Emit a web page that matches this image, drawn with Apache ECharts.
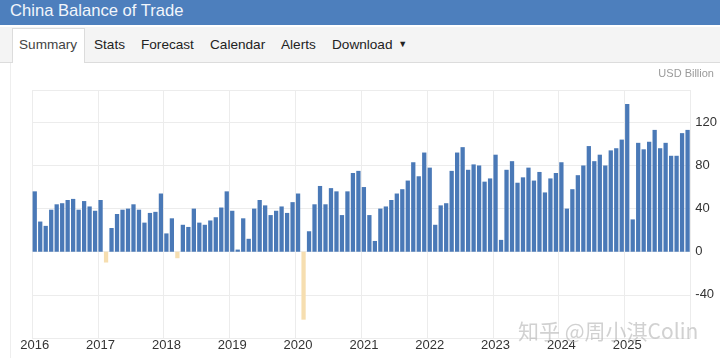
<!DOCTYPE html>
<html>
<head>
<meta charset="utf-8">
<script src="https://cdn.jsdelivr.net/npm/echarts@6/dist/echarts.min.js"></script>
<style>
html,body{margin:0;padding:0;background:#fff;width:720px;height:358px;overflow:hidden;font-family:"Liberation Sans",Arial,sans-serif;}
#chart{position:absolute;left:0;top:0;width:720px;height:358px;}
#hdr{position:absolute;left:0;top:0;width:720px;height:25px;background:#4d7fbd;}
#hdr span{position:absolute;left:10px;top:1px;color:#f2f6fb;font-size:16.6px;line-height:20px;}
#tabs{position:absolute;left:0;top:27px;width:720px;height:35px;background:#f4f4f4;border-bottom:1px solid #dcdcdc;}
#sumtab{position:absolute;left:12px;top:1px;width:73px;height:35px;background:#fff;border:1px solid #dcdcdc;border-bottom:none;box-sizing:border-box;}
.tab{position:absolute;top:9px;font-size:13.6px;color:#222;line-height:17px;white-space:nowrap;}
#vline{position:absolute;left:10px;top:63px;width:1px;height:295px;background:#eeeeee;}
#unit{position:absolute;right:6px;top:67px;font-size:11px;color:#9a9a9a;}
#wm{position:absolute;left:518px;top:315px;font-size:21px;color:rgba(185,185,185,0.65);font-family:"Noto Sans CJK SC",sans-serif;white-space:nowrap;}
</style>
</head>
<body>
<div id="chart"></div>
<div id="vline"></div>
<div id="hdr"><span>China Balance of Trade</span></div>
<div id="tabs">
  <div id="sumtab"></div>
  <span class="tab" style="left:19px;color:#444">Summary</span>
  <span class="tab" style="left:94px">Stats</span>
  <span class="tab" style="left:141px">Forecast</span>
  <span class="tab" style="left:210px">Calendar</span>
  <span class="tab" style="left:281px">Alerts</span>
  <span class="tab" style="left:332px">Download <span style="font-size:9px;position:relative;top:-2px;left:2px">&#9660;</span></span>
</div>
<div id="unit">USD Billion</div>
<div id="wm">知乎 @周小淇Colin</div>
<script>
var years = ["2016","2017","2018","2019","2020","2021","2022","2023","2024","2025"];
var v2016 = [56, 28, 24, 39, 44, 45, 48, 49, 39, 47, 42, 38];
var v2017 = [48, -10, 22, 35, 39, 40, 44, 39, 27, 36, 37, 54];
var v2018 = [17, 31, -6, 25, 23, 40, 27, 25, 29, 32, 41, 56];
var v2019 = [38, 2, 31, 12, 40, 48, 43, 34, 38, 42, 36, 46];
var v2020 = [54, -63, 19, 44, 61, 44, 59, 56, 34, 56, 73, 75];
var v2021 = [60, 34, 10, 40, 42, 48, 54, 58, 66, 83, 70, 92];
var v2022 = [78, 25, 43, 45, 75, 92, 97, 76, 81, 80, 65, 68];
var v2023 = [90, 11, 76, 84, 64, 69, 78, 66, 74, 55, 68, 73];
var v2024 = [83, 40, 58, 71, 80, 98, 84, 90, 80, 94, 96, 104];
var v2025 = [137, 30, 101, 95, 102, 113, 96, 101, 89, 89, 110, 113];
var yTicks = [-40, 0, 40, 80, 120];

var byYear = [v2016, v2017, v2018, v2019, v2020, v2021, v2022, v2023, v2024, v2025];
var cats = [], vals = [];
years.forEach(function (y, i) {
  byYear[i].forEach(function (v, m) {
    cats.push(y + "-" + (m < 9 ? "0" : "") + (m + 1));
    vals.push(v);
  });
});
var data = vals.map(function (v) {
  return { value: v, itemStyle: { color: v < 0 ? "#f6deb0" : "#4a79b7" } };
});

var chart = echarts.init(document.getElementById("chart"), null, { renderer: "canvas" });
chart.setOption({
  animation: false,
  grid: { left: 32, right: 28, top: 90, bottom: 20, containLabel: false },
  xAxis: {
    type: "category",
    data: cats,
    boundaryGap: true,
    axisLine: { show: false },
    axisTick: { show: false },
    axisLabel: {
      interval: function (i) { return i % 12 === 0; },
      formatter: function (v) { return v.slice(0, 4); },
      color: "#333", fontSize: 13, margin: 1,
      fontFamily: "Liberation Sans"
    },
    splitLine: {
      show: true,
      interval: function (i) { return i % 12 === 0; },
      lineStyle: { color: "#ececec", width: 1 }
    }
  },
  yAxis: {
    type: "value",
    position: "right",
    min: -80, max: 150, interval: 40,
    axisLine: { show: false },
    axisTick: { show: false },
    axisLabel: {
      color: "#333", fontSize: 13, margin: 5,
      fontFamily: "Liberation Sans",
      showMinLabel: false, showMaxLabel: false,
      formatter: function (v) { return yTicks.indexOf(v) >= 0 ? String(v) : ""; }
    },
    splitLine: { lineStyle: { color: "#ececec", width: 1 } }
  },
  series: [{
    type: "bar",
    data: data,
    barCategoryGap: "22%"
  }]
});
</script>
</body>
</html>
